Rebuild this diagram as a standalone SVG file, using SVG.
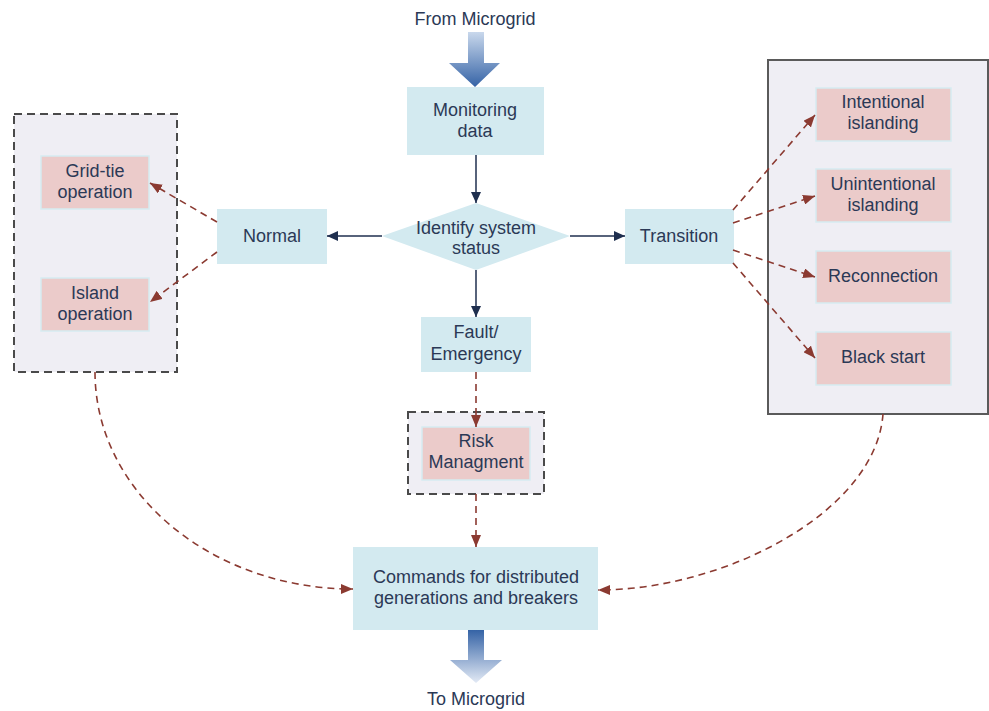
<svg xmlns="http://www.w3.org/2000/svg" width="989" height="711" viewBox="0 0 989 711">
<defs>
<style>
text{font-family:"Liberation Sans",Arial,sans-serif;font-size:18px;fill:#2b3956;text-anchor:middle}
.blue{fill:#d3eaf0}
.pink{fill:#ebcbca;stroke:#d6ecf1;stroke-width:1.5}
.grp{fill:#efeef4;stroke:#4a4a4a;stroke-width:2;stroke-dasharray:8 5}
.grps{fill:#efeef4;stroke:#5a5a5a;stroke-width:2}
.solid{fill:none;stroke:#1f2f4f;stroke-width:1.5;marker-end:url(#an)}
.dash{fill:none;stroke:#8b3a31;stroke-width:1.6;stroke-dasharray:7 5;marker-end:url(#ar)}
</style>
<marker id="an" markerUnits="userSpaceOnUse" markerWidth="12" markerHeight="10" refX="11" refY="5" orient="auto"><path d="M0,0 L11,5 L0,10 Z" fill="#1f2f4f"/></marker>
<marker id="ar" markerUnits="userSpaceOnUse" markerWidth="13" markerHeight="10" refX="12" refY="5" orient="auto"><path d="M0,0 L12,5 L0,10 Z" fill="#8b3a31"/></marker>
<linearGradient id="gdown" x1="0" y1="0" x2="0" y2="1"><stop offset="0" stop-color="#c9d8ec"/><stop offset="1" stop-color="#3563a6"/></linearGradient>
<linearGradient id="gup" x1="0" y1="0" x2="0" y2="1"><stop offset="0" stop-color="#3563a6"/><stop offset="1" stop-color="#e3eaf5"/></linearGradient>
</defs>
<rect width="989" height="711" fill="#ffffff"/>

<g id="from-microgrid">
<text x="475" y="25">From Microgrid</text>
<path d="M468,32 H484 V63 H500 L475,87 L449,63 H468 Z" fill="url(#gdown)"/>
</g>

<g id="normal-group"><rect class="grp" x="14" y="114" width="163" height="258"/></g>
<g id="transition-group"><rect class="grps" x="768" y="60" width="220" height="354"/></g>
<g id="risk-group"><rect class="grp" x="408" y="412" width="136" height="82"/></g>

<g id="monitoring"><rect class="blue" x="407" y="87" width="137" height="68"/><text x="475" y="116">Monitoring</text><text x="475" y="137">data</text></g>
<g id="identify"><path class="blue" d="M476,203 L570,236 L476,270 L382,236 Z"/><text x="476" y="234">Identify system</text><text x="476" y="254">status</text></g>
<g id="normal"><rect class="blue" x="217" y="209" width="110" height="55"/><text x="272" y="242">Normal</text></g>
<g id="transition"><rect class="blue" x="625" y="209" width="109" height="55"/><text x="679" y="242">Transition</text></g>
<g id="fault"><rect class="blue" x="421" y="317" width="110" height="55"/><text x="476" y="338">Fault/</text><text x="476" y="360">Emergency</text></g>
<g id="gridtie"><rect class="pink" x="41" y="156" width="108" height="53"/><text x="95" y="177">Grid-tie</text><text x="95" y="198">operation</text></g>
<g id="island"><rect class="pink" x="41" y="278" width="108" height="53"/><text x="95" y="299">Island</text><text x="95" y="320">operation</text></g>
<g id="intentional"><rect class="pink" x="816" y="88" width="135" height="53"/><text x="883" y="108">Intentional</text><text x="883" y="129">islanding</text></g>
<g id="unintentional"><rect class="pink" x="816" y="169" width="135" height="53"/><text x="883" y="190">Unintentional</text><text x="883" y="211">islanding</text></g>
<g id="reconnection"><rect class="pink" x="816" y="251" width="135" height="52"/><text x="883" y="282">Reconnection</text></g>
<g id="blackstart"><rect class="pink" x="816" y="332" width="135" height="53"/><text x="883" y="363">Black start</text></g>
<g id="risk"><rect class="pink" x="422" y="427" width="108" height="53"/><text x="476" y="447">Risk</text><text x="476" y="468">Managment</text></g>
<g id="commands"><rect class="blue" x="353" y="547" width="245" height="83"/><text x="476" y="583">Commands for distributed</text><text x="476" y="604">generations and breakers</text></g>

<g id="to-microgrid">
<path d="M468,630 H484 V660 H502 L476,683 L450,660 H468 Z" fill="url(#gup)"/>
<text x="476" y="705">To Microgrid</text>
</g>

<g id="connectors">
<line class="solid" x1="476" y1="155" x2="476" y2="203"/>
<line class="solid" x1="382" y1="236" x2="327" y2="236"/>
<line class="solid" x1="570" y1="236" x2="625" y2="236"/>
<line class="solid" x1="476" y1="270" x2="476" y2="317"/>
<line class="dash" x1="217" y1="222" x2="150" y2="183"/>
<line class="dash" x1="217" y1="252" x2="150" y2="302"/>
<line class="dash" x1="733" y1="210" x2="815" y2="115"/>
<line class="dash" x1="733" y1="223" x2="815" y2="196"/>
<line class="dash" x1="733" y1="250" x2="815" y2="277"/>
<line class="dash" x1="733" y1="263" x2="815" y2="358"/>
<line class="dash" x1="476" y1="372" x2="476" y2="427"/>
<line class="dash" x1="476" y1="494" x2="476" y2="547"/>
<path class="dash" d="M95,372 C95,492 211,589 353,589"/>
<path class="dash" d="M883,414 C876,511 726,590 598,590"/>
</g>
</svg>
